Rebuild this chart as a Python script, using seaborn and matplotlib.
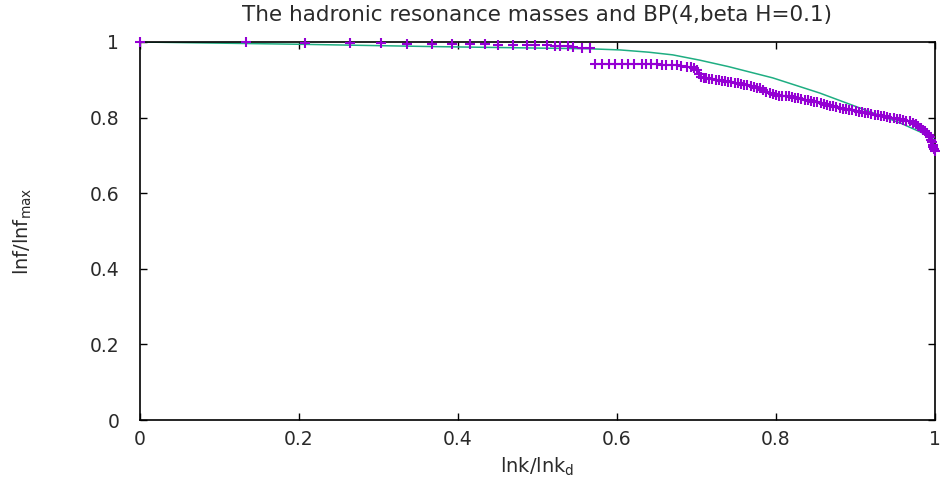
import numpy as np
import pandas as pd
import matplotlib
matplotlib.use("Agg")
import matplotlib.pyplot as plt
import seaborn as sns
from matplotlib.ticker import FixedLocator

# ---- data ----
title = "The hadronic resonance masses and BP(4,beta H=0.1)"

# purple "+" points: ln f / ln f_max vs ln k / ln k_d
pts_x_top = [0.0, 0.133, 0.208, 0.264, 0.303, 0.336, 0.367, 0.392, 0.415, 0.434,
             0.450, 0.469, 0.487, 0.497, 0.512, 0.522, 0.528, 0.538, 0.545, 0.556, 0.566]
pts_y_top = [1.0, 0.999, 0.998, 0.997, 0.997, 0.996, 0.995, 0.995, 0.994, 0.994,
             0.993, 0.993, 0.992, 0.991, 0.991, 0.990, 0.990, 0.989, 0.987, 0.985, 0.983]

pts_x_mid = [0.572, 0.581, 0.590, 0.597, 0.606, 0.614, 0.621, 0.631, 0.637, 0.643,
             0.650, 0.656, 0.662, 0.669, 0.675, 0.681, 0.688, 0.693, 0.697]
pts_y_mid = [0.942, 0.942, 0.942, 0.942, 0.942, 0.942, 0.942, 0.942, 0.941, 0.941,
             0.941, 0.940, 0.940, 0.939, 0.938, 0.936, 0.935, 0.933, 0.930]

pts_x_low = [0.700, 0.703, 0.706, 0.709, 0.712, 0.716, 0.720, 0.724, 0.728, 0.732,
             0.736, 0.740, 0.744, 0.748, 0.752, 0.756, 0.760, 0.764, 0.768, 0.772,
             0.776, 0.780, 0.784, 0.788, 0.792, 0.796, 0.800, 0.804, 0.808, 0.812,
             0.816, 0.820, 0.824, 0.828, 0.832, 0.836, 0.840, 0.844, 0.848, 0.852,
             0.856, 0.860, 0.864, 0.868, 0.872, 0.876, 0.880, 0.884, 0.888, 0.892,
             0.896, 0.900, 0.904, 0.908, 0.912, 0.916, 0.920, 0.924, 0.928, 0.932,
             0.936, 0.940, 0.944, 0.948, 0.952, 0.956, 0.960, 0.964, 0.968, 0.972,
             0.976, 0.979, 0.982, 0.985, 0.988, 0.990, 0.992, 0.994, 0.995, 0.996,
             0.997, 0.998, 0.999, 1.000]
pts_y_low = [0.926, 0.915, 0.908, 0.905, 0.904, 0.903, 0.902, 0.900, 0.899, 0.898,
             0.897, 0.895, 0.894, 0.892, 0.891, 0.889, 0.887, 0.885, 0.883, 0.881,
             0.879, 0.877, 0.873, 0.869, 0.866, 0.863, 0.860, 0.858, 0.857, 0.856,
             0.856, 0.855, 0.853, 0.851, 0.849, 0.847, 0.846, 0.844, 0.842, 0.841,
             0.839, 0.836, 0.834, 0.832, 0.830, 0.828, 0.826, 0.824, 0.822, 0.821,
             0.820, 0.818, 0.816, 0.814, 0.812, 0.811, 0.809, 0.808, 0.806, 0.805,
             0.803, 0.802, 0.800, 0.799, 0.797, 0.796, 0.794, 0.792, 0.790, 0.787,
             0.783, 0.778, 0.772, 0.768, 0.764, 0.760, 0.755, 0.748, 0.742, 0.735,
             0.728, 0.722, 0.716, 0.712]

# green curve
curve_x = [0.0, 0.2, 0.365, 0.566, 0.604, 0.64, 0.67, 0.704, 0.74, 0.796, 0.855, 0.906, 0.956, 0.99, 1.0]
curve_y = [1.0, 0.994, 0.988, 0.982, 0.979, 0.973, 0.966, 0.952, 0.935, 0.905, 0.865, 0.825, 0.786, 0.754, 0.745]

ticks = [0.0, 0.2, 0.4, 0.6, 0.8, 1.0]
tick_labels = ["0", "0.2", "0.4", "0.6", "0.8", "1"]

# ---- plotting ----
sns.set_theme(style="white")
plt.rcParams["font.family"] = ["DejaVu Sans"]
text_color = "#2a2a2a"

fig = plt.figure(figsize=(9.43, 4.90), dpi=100)
ax = fig.add_axes([140 / 943, 1 - 420 / 490, 795 / 943, 378 / 490])

pts = pd.DataFrame({
    "x": pts_x_top + pts_x_mid + pts_x_low,
    "y": pts_y_top + pts_y_mid + pts_y_low,
})
curve = pd.DataFrame({"x": curve_x, "y": curve_y})

sns.lineplot(data=curve, x="x", y="y", ax=ax, color="#1fae82", linewidth=1.1,
             sort=False, estimator=None, zorder=2)
sns.scatterplot(data=pts, x="x", y="y", ax=ax, marker="+", s=60,
                color="#9400d3", linewidth=1.5, zorder=3, clip_on=False)

ax.set_xlim(0, 1)
ax.set_ylim(0, 1)
ax.xaxis.set_major_locator(FixedLocator(ticks))
ax.yaxis.set_major_locator(FixedLocator(ticks))
ax.set_xticklabels(tick_labels)
ax.set_yticklabels(tick_labels)

ax.tick_params(direction="in", length=5, width=1.0, color="black",
               top=True, right=True, bottom=True, left=True,
               labelsize=13.5, labelcolor=text_color)
ax.tick_params(axis="y", pad=15)
ax.tick_params(axis="x", pad=7)

for sp in ax.spines.values():
    sp.set_color("black")
    sp.set_linewidth(1.2)
    sp.set_visible(True)

ax.set_xlabel(r"lnk/lnk$_\mathregular{d}$", fontsize=14, color=text_color, labelpad=5)
ax.set_ylabel(r"lnf/lnf$_\mathregular{max}$", fontsize=14, color=text_color, labelpad=40)
ax.set_title(title, fontsize=15.5, color=text_color, pad=15)

fig.savefig("out.png", dpi=100, facecolor="white")
